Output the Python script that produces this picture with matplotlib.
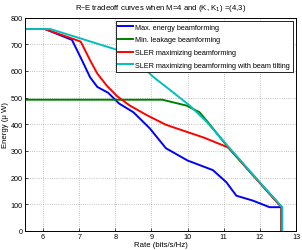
import matplotlib
matplotlib.use("Agg")
import matplotlib.pyplot as plt

plt.rcParams['font.family'] = ['Liberation Sans', 'DejaVu Sans']

blue_x = [5.5, 6.05, 6.8, 7.1, 7.3, 7.5, 7.8, 8.1, 8.5, 8.95, 9.4, 10.0, 10.7, 11.07, 11.35, 11.8, 12.27, 12.6, 12.6]
blue_y = [757, 757, 716, 633, 576, 540, 518, 478, 445, 385, 310, 264, 228, 183, 132, 114, 89, 89, 0]

green_x = [5.5, 9.3, 9.97, 10.33, 10.56, 11.16, 12.0, 12.6, 12.6]
green_y = [492, 492, 470, 445, 408, 307, 180, 89, 0]

red_x = [5.5, 6.05, 7.04, 7.3, 7.5, 7.76, 8.05, 8.4, 8.9, 9.4, 9.9, 10.45, 11.14, 12.0, 12.6, 12.6]
red_y = [757, 757, 710, 640, 590, 545, 505, 470, 432, 398, 375, 350, 312, 180, 89, 0]

cyan_x = [5.5, 6.2, 8.12, 8.4, 8.7, 9.1, 9.5, 10.06, 10.52, 11.14, 12.0, 12.62, 12.62]
cyan_y = [757, 757, 676, 648, 620, 572, 530, 470, 410, 314, 182, 89, 0]

labels = ["Max. energy beamforming", "Min. leakage beamforming",
          "SLER maximizing beamforming", "SLER maximizing beamforming with beam tilting"]
xticks = [6, 7, 8, 9, 10, 11, 12, 13]
yticks = [0, 100, 200, 300, 400, 500, 600, 700, 800]

fig = plt.figure(figsize=(3.02, 2.51), dpi=100)
ax = fig.add_axes([0.083, 0.076, 0.897, 0.850])
lw = 1.4
ax.plot(blue_x, blue_y, color=(0, 0, 1), lw=lw, label=labels[0])
ax.plot(green_x, green_y, color=(0, 0.5, 0), lw=lw, label=labels[1])
ax.plot(red_x, red_y, color=(1, 0, 0), lw=lw, label=labels[2])
ax.plot(cyan_x, cyan_y, color=(0, 0.75, 0.75), lw=lw, label=labels[3])

ax.set_xlim(5.5, 13)
ax.set_ylim(0, 800)
ax.set_xticks(xticks)
ax.set_yticks(yticks)
ax.tick_params(labelsize=5.2, length=2, width=0.5, direction="in", pad=1.5)
ax.grid(True, linestyle=":", color="#b0b0b0", linewidth=0.6)
for s in ax.spines.values():
    s.set_linewidth(0.7)
ax.set_xlabel("Rate (bits/s/Hz)", fontsize=5.6, labelpad=0.5)
ax.set_ylabel("Energy (μ W)", fontsize=5.6, labelpad=1)
ax.set_title("R–E tradeoff curves when M=4 and (K, K$_1$) =(4,3)", fontsize=5.6, pad=6)
leg = ax.legend(loc="upper right", fontsize=5.2, handlelength=2.0, handletextpad=0.3,
                borderpad=0.4, labelspacing=0.78, fancybox=False, framealpha=1,
                edgecolor="black", borderaxespad=0.45)
leg.get_frame().set_linewidth(0.6)
fig.savefig("out.png", dpi=100)
